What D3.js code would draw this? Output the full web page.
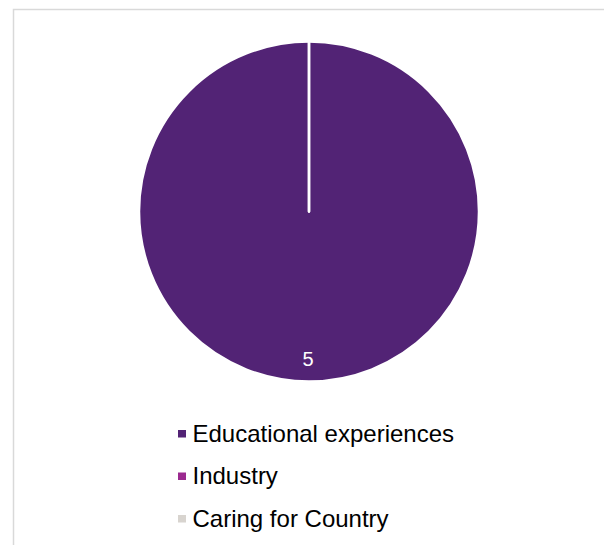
<!DOCTYPE html>
<html>
<head>
<meta charset="utf-8">
<script src="https://cdn.jsdelivr.net/npm/d3@7"></script>
<style>
  body { margin: 0; background: #fff; }
  svg { display: block; }
</style>
</head>
<body>
<div id="chart"></div>
<script>
const categories = ["Educational experiences", "Industry", "Caring for Country"];
const values = [5, 0, 0];
const colors = ["#522375", "#9b2a8f", "#d8d4cf"];

const width = 604, height = 545;
const cx = 309, cy = 211.5, radius = 170;

const svg = d3.select("#chart")
  .append("svg")
  .attr("width", width)
  .attr("height", height);

// frame
svg.append("path")
  .attr("d", `M13.5,${height} V9.5 H${width}`)
  .attr("fill", "none")
  .attr("stroke", "#d9d9d9")
  .attr("stroke-width", 1.5);

const data = categories.map((c, i) => ({ category: c, value: values[i] }));

const pie = d3.pie()
  .sort(null)
  .value(d => d.value);

const arc = d3.arc()
  .innerRadius(0)
  .outerRadius(radius);

const g = svg.append("g")
  .attr("transform", `translate(${cx}, ${cy})`);

g.selectAll("path")
  .data(pie(data))
  .join("path")
  .attr("d", arc)
  .attr("fill", (d, i) => colors[i])
  .attr("stroke", "#fff")
  .attr("stroke-width", 2.5)
  .attr("stroke-linejoin", "round");

// data label for non-zero slice
g.selectAll("text.label")
  .data(pie(data).filter(d => d.value > 0))
  .join("text")
  .attr("class", "label")
  .attr("x", -1)
  .attr("y", radius * 0.87)
  .attr("dy", "0.35em")
  .attr("text-anchor", "middle")
  .attr("fill", "#fff")
  .style("font-family", "'Liberation Sans', Arial, sans-serif")
  .style("font-size", "20px")
  .text(d => d.data.value);

// legend
const legendY = d3.scalePoint()
  .domain(categories)
  .range([433.5, 518.5]);

const legend = svg.selectAll("g.legend")
  .data(data)
  .join("g")
  .attr("class", "legend")
  .attr("transform", d => `translate(178, ${legendY(d.category)})`);

legend.append("rect")
  .attr("x", 0)
  .attr("y", -3.5)
  .attr("width", 8)
  .attr("height", 7.5)
  .attr("fill", (d, i) => colors[i]);

legend.append("text")
  .attr("x", 14.5)
  .attr("y", 0)
  .attr("dy", "0.35em")
  .attr("fill", "#000")
  .style("font-family", "'Liberation Sans', Arial, sans-serif")
  .style("font-size", "24px")
  .text(d => d.category);
</script>
</body>
</html>
